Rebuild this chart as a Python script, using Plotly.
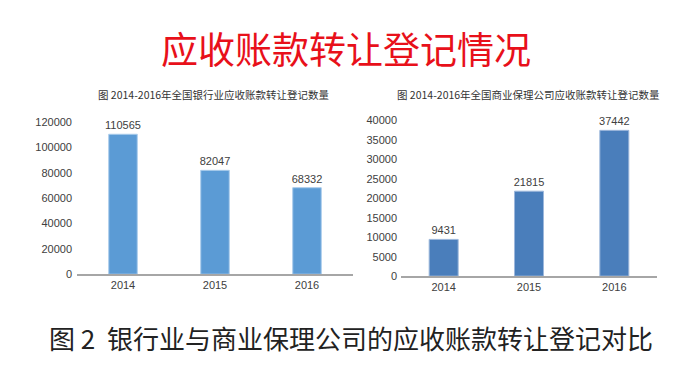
import plotly.graph_objects as go

years = ["2014", "2015", "2016"]
bank_counts = [110565, 82047, 68332]
factoring_counts = [9431, 21815, 37442]
left_ticks = [0, 20000, 40000, 60000, 80000, 100000, 120000]
right_ticks = [0, 5000, 10000, 15000, 20000, 25000, 30000, 35000, 40000]

main_title = "应收账款转让登记情况"
left_title = "图 2014-2016年全国银行业应收账款转让登记数量"
right_title = "图 2014-2016年全国商业保理公司应收账款转让登记数量"
caption = "图 2  银行业与商业保理公司的应收账款转让登记对比"

W, H = 700, 366
OX, OY = 8, 8  # page body margin compensation


def px(x):
    return (x - OX) / W


def py(y):
    return 1 - (y - OY) / H


num_font = dict(family="Liberation Sans, Arial, sans-serif", size=11, color="#404040")

fig = go.Figure()
fig.add_trace(go.Bar(
    x=years, y=bank_counts, xaxis="x", yaxis="y",
    marker=dict(color="#5B9BD5", line=dict(color="#A9CBEB", width=1)),
    width=0.31, text=[str(v) for v in bank_counts], textposition="outside",
    textfont=num_font, cliponaxis=False, showlegend=False, constraintext="none",
))
fig.add_trace(go.Bar(
    x=years, y=factoring_counts, xaxis="x2", yaxis="y2",
    marker=dict(color="#4A7EBB", line=dict(color="#9DB8DC", width=1)),
    width=0.34, text=[str(v) for v in factoring_counts], textposition="outside",
    textfont=num_font, cliponaxis=False, showlegend=False, constraintext="none",
))

axis_common = dict(showgrid=False, zeroline=False, ticks="", tickfont=num_font)

fig.update_layout(
    width=W, height=H,
    margin=dict(l=0, r=0, t=0, b=0),
    paper_bgcolor="white", plot_bgcolor="white",
    xaxis=dict(domain=[px(77), px(353)], anchor="y", showline=True,
               linecolor="#A6A6A6", linewidth=1.5, **axis_common),
    yaxis=dict(domain=[py(277), py(120)], anchor="x", range=[0, 120000],
               tickvals=left_ticks, ticktext=[str(v) for v in left_ticks],
               showline=False, ticklabelstandoff=4, **axis_common),
    xaxis2=dict(domain=[px(401), px(657)], anchor="y2", showline=True,
                linecolor="#A6A6A6", linewidth=1.5, **axis_common),
    yaxis2=dict(domain=[py(279), py(118)], anchor="x2", range=[0, 40000],
                tickvals=right_ticks, ticktext=[str(v) for v in right_ticks],
                showline=False, ticklabelstandoff=3, **axis_common),
    annotations=[
        dict(text=main_title, x=px(346), y=py(43), xref="paper", yref="paper",
             showarrow=False, xanchor="center", yanchor="middle",
             font=dict(family="Noto Sans CJK SC", size=37, color="#E8101A")),
        dict(text=left_title, x=px(214), y=py(91), xref="paper", yref="paper",
             showarrow=False, xanchor="center", yanchor="middle",
             font=dict(family="Noto Sans CJK SC", size=10.5, color="#333333")),
        dict(text=right_title, x=px(528), y=py(91), xref="paper", yref="paper",
             showarrow=False, xanchor="center", yanchor="middle",
             font=dict(family="Noto Sans CJK SC", size=10.5, color="#333333")),
        dict(text=caption, x=px(351), y=py(342), xref="paper", yref="paper",
             showarrow=False, xanchor="center", yanchor="middle",
             font=dict(family="Noto Sans CJK SC", size=26, color="#222222")),
    ],
)

fig.write_html("out.html")
